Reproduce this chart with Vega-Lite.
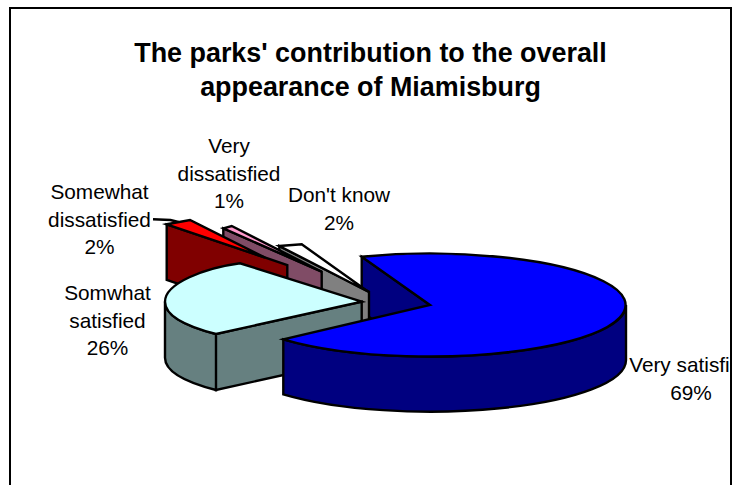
{
"$schema":"https://vega.github.io/schema/vega-lite/v6.json",
"width":721,"height":480,
"autosize":"none",
"padding":{"left":10,"top":8,"right":9,"bottom":0},
"background":"white",
"view":{"stroke":"black","strokeWidth":2,"fill":"white"},
"title":{"text":["The parks' contribution to the overall","appearance of Miamisburg"],"font":"Liberation Sans","fontSize":26.9,"fontWeight":"bold","color":"black","anchor":"middle","offset":-93.5,"lineHeight":33.4},
"data":{"values":[
{"category":"Don't know","share":2,"rank":1,"label":"Don't know\n2%"},
{"category":"Very dissatisfied","share":1,"rank":2,"label":"Very\ndissatisfied\n1%"},
{"category":"Somewhat dissatisfied","share":2,"rank":3,"label":"Somewhat\ndissatisfied\n2%"},
{"category":"Somwhat satisfied","share":26,"rank":4,"label":"Somwhat\nsatisfied\n26%"},
{"category":"Very satisfied","share":69,"rank":5,"label":"Very satisfied\n69%"}
]},
"layer":[
{"transform":[{"filter":"datum.category === 'Very satisfied'"}],
 "mark":{"type":"point","filled":true,"opacity":1,"size":4,"stroke":"black","strokeWidth":2.4,"fill":"#000080","shape":"M-8.8 8.7L59.5 57L59.5 112L-8.8 63.7Z"},"encoding":{}},
{"mark":{"type":"point","filled":true,"opacity":1,"size":4,"stroke":"black","strokeWidth":2.4},
 "encoding":{
  "fill":{"field":"category","type":"nominal","legend":null,"scale":{"domain":["Don't know","Very dissatisfied","Somewhat dissatisfied","Somwhat satisfied","Very satisfied"],"range":["#808080","#804C66","#800000","#668080","#000080"]}},
  "shape":{"field":"category","type":"nominal","legend":null,"scale":{"domain":["Don't know","Very dissatisfied","Somewhat dissatisfied","Somwhat satisfied","Very satisfied"],"range":[
   "M-91.2 -2L-1.5 43.7L-1.5 99L-91.2 53Z",
   "M-147.2 -19.7L-48.8 23.7L-48.8 78.7L-147.2 35.3Z",
   "M-203.8 -23.7L-83.2 17L-83.2 73L-203.8 32Z",
   "M-8.8 53.7L-154.5 86L-154.5 142L-8.8 109.7ZM-205.5 53.7C-205.5 67 -185.5 78 -154.5 86L-154.5 142C-185.5 134 -205.5 123 -205.5 109.7Z",
   "M255.5 57A196 51.5 0 0 1 -87.2 91.3L-87.2 146.3A196 51.5 0 0 0 255.5 112Z"]}}
 }},
{"mark":{"type":"point","filled":true,"opacity":1,"size":4,"stroke":"black","strokeWidth":2.4},
 "encoding":{
  "fill":{"field":"category","type":"nominal","legend":null,"scale":{"domain":["Don't know","Very dissatisfied","Somewhat dissatisfied","Somwhat satisfied","Very satisfied"],"range":["#FFFFFF","#FF99CC","#FF0000","#CCFFFF","#0000FF"]}},
  "shape":{"field":"category","type":"nominal","legend":null,"scale":{"domain":["Don't know","Very dissatisfied","Somewhat dissatisfied","Somwhat satisfied","Very satisfied"],"range":[
   "M-91.2 -2L-68.8 -3.7L-2.2 43.7Z",
   "M-147.2 -19.7L-138.8 -22L-48.8 23.7Z",
   "M-203.8 -23.7L-180.5 -28L-105.5 9.6ZM-217.5 -28.7L-200 -28L-192 -26",
   "M-8.8 53.7L-130.5 15.3C-165.5 20 -205.5 35 -205.5 53.7C-205.5 67 -185.5 78 -154.5 86Z",
   "M59.5 57L-8.8 8.7A196 51.5 0 1 1 -87.2 91.3Z"]}}
 }},
{"mark":{"type":"text","font":"Liberation Sans","fontSize":20.8,"lineHeight":27.5,"align":"center","baseline":"middle","lineBreak":"\n","color":"black","clip":true},
 "encoding":{
  "text":{"field":"label","type":"nominal"},
  "x":{"field":"rank","type":"quantitative","axis":null,"scale":{"domain":[1,2,3,4,5],"range":[329,219,89.5,97.5,681]}},
  "y":{"field":"rank","type":"quantitative","axis":null,"scale":{"domain":[1,2,3,4,5],"range":[188,139,185,286,358]}}
 }}
],
"resolve":{"scale":{"fill":"independent","shape":"independent"}}
}
